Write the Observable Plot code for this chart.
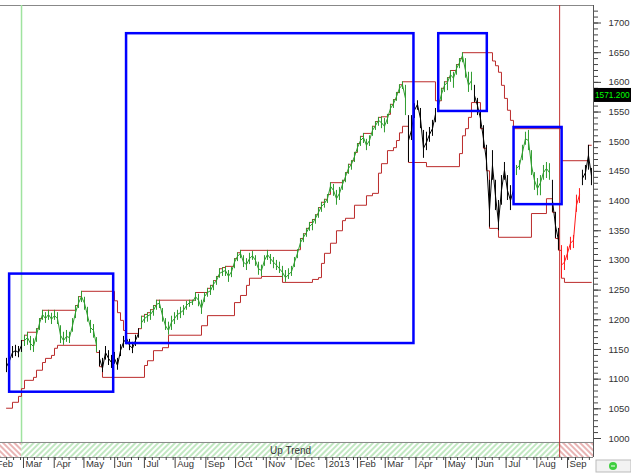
<!DOCTYPE html>
<html>
<head>
<meta charset="utf-8">
<script src="https://cdn.jsdelivr.net/npm/d3@7"></script>
<script src="https://cdn.jsdelivr.net/npm/@observablehq/plot@0.6"></script>
<style>
  html, body { margin: 0; padding: 0; background: #fff; }
  svg { display: block; }
</style>
</head>
<body>
<div id="chart"></div>
<script>
const firstSample = "2012-02-12T20:18Z";
const sampleEveryDays = 3.027;

const closes = [
  1121,1131,1145,1148,1145,1157,1165,1170,1160,1155,
  1174,1194,1209,1202,1209,1201,1207,1202,1174,1165,
  1172,1170,1190,1212,1228,1239,1228,1207,1187,1182,
  1157,1135,1118,1145,1135,1128,1135,1123,1148,1162,
  1169,1157,1152,1165,1177,1195,1202,1206,1209,1216,
  1226,1228,1207,1190,1182,1196,1202,1209,1212,1216,
  1224,1229,1230,1239,1233,1219,1239,1246,1249,1260,
  1266,1278,1281,1283,1273,1281,1297,1307,1312,1297,
  1293,1303,1308,1300,1286,1283,1300,1310,1303,1297,
  1292,1286,1280,1271,1276,1281,1297,1312,1330,1339,
  1347,1357,1362,1371,1381,1391,1396,1404,1425,1418,
  1404,1413,1428,1441,1455,1462,1475,1490,1502,1507,
  1494,1502,1519,1527,1536,1532,1526,1539,1556,1564,
  1576,1590,1596,1573,1502,1519,1553,1563,1539,1489,
  1499,1512,1522,1546,1561,1580,1595,1600,1613,1607,
  1623,1633,1645,1620,1595,1603,1578,1561,1539,1505,
  1468,1384,1460,1409,1364,1418,1452,1418,1401,1418,
  1455,1460,1482,1505,1502,1460,1435,1421,1431,1448,
  1455,1448,1401,1359,1334,1292,1297,1312,1329,1334,
  1393,1410,1438,1448,1477,1443
];
const highs = [
  1135,1145,1155,1157,1155,1165,1174,1179,1172,1168,
  1185,1202,1216,1212,1216,1211,1216,1212,1190,1179,
  1182,1179,1202,1224,1239,1248,1238,1221,1199,1192,
  1170,1148,1135,1155,1148,1140,1145,1135,1158,1172,
  1177,1167,1162,1174,1185,1206,1209,1212,1217,1224,
  1233,1233,1219,1202,1196,1206,1212,1216,1221,1224,
  1231,1233,1233,1246,1243,1233,1246,1253,1258,1266,
  1273,1286,1288,1290,1283,1288,1303,1313,1317,1308,
  1303,1312,1315,1308,1297,1292,1308,1317,1310,1305,
  1300,1297,1290,1283,1286,1290,1305,1318,1337,1345,
  1354,1364,1369,1377,1389,1398,1403,1411,1431,1428,
  1418,1423,1435,1448,1462,1468,1482,1497,1509,1514,
  1504,1510,1526,1534,1541,1542,1539,1546,1563,1571,
  1583,1596,1601,1595,1544,1544,1564,1569,1556,1519,
  1516,1524,1536,1556,1569,1590,1601,1608,1620,1617,
  1630,1640,1650,1640,1617,1617,1595,1573,1553,1527,
  1494,1435,1485,1435,1401,1443,1465,1443,1426,1435,
  1460,1468,1494,1516,1519,1485,1448,1438,1443,1460,
  1465,1463,1435,1381,1354,1325,1308,1323,1339,1342,
  1410,1421,1452,1460,1494,1455
];
const lows = [
  1111,1121,1135,1138,1136,1145,1155,1157,1148,1145,
  1162,1182,1199,1194,1199,1192,1199,1192,1160,1157,
  1162,1160,1179,1202,1219,1229,1216,1196,1177,1169,
  1145,1121,1111,1132,1123,1118,1125,1115,1138,1152,
  1158,1148,1143,1155,1169,1185,1194,1196,1199,1206,
  1216,1219,1196,1182,1174,1182,1192,1199,1202,1207,
  1216,1221,1224,1231,1222,1209,1229,1238,1241,1249,
  1258,1270,1273,1273,1263,1271,1286,1298,1303,1288,
  1283,1293,1300,1290,1275,1273,1290,1300,1293,1286,
  1283,1278,1270,1263,1268,1273,1288,1303,1322,1330,
  1339,1349,1350,1361,1371,1381,1388,1396,1415,1408,
  1393,1401,1418,1431,1445,1452,1465,1482,1492,1497,
  1485,1492,1509,1519,1526,1522,1515,1529,1548,1556,
  1568,1581,1588,1544,1465,1502,1539,1553,1522,1472,
  1485,1499,1509,1532,1549,1569,1583,1586,1600,1590,
  1612,1623,1633,1607,1583,1586,1566,1544,1522,1489,
  1452,1356,1435,1384,1350,1393,1435,1401,1384,1401,
  1443,1452,1468,1494,1485,1443,1418,1409,1409,1435,
  1438,1435,1381,1337,1317,1270,1283,1300,1317,1320,
  1381,1396,1426,1435,1452,1426
];

// trend state of the bars: [first bar index, state]
const regimeChanges = [
  [0,"neutral"],[6,"up"],[31,"neutral"],[45,"up"],[134,"neutral"],[144,"up"],
  [156,"neutral"],[170,"up"],[182,"neutral"],[185,"down"],[192,"neutral"]
];

// channel lines: [bar index where the level changes, level]
const upperSteps = [
  [5,1165],[6,1174],[7,1179],[10,1185],[11,1202],[12,1216],[23,1224],[24,1239],[25,1248],
  [36,1232],[37,1212],[38,1199],[39,1182],[40,1177],[44,1185],[45,1206],[46,1209],[47,1212],
  [48,1217],[49,1224],[50,1233],[63,1246],[67,1253],[68,1258],[69,1266],[70,1273],[71,1286],
  [72,1288],[73,1290],[76,1303],[77,1313],[78,1317],[97,1318],[98,1337],[99,1345],[100,1354],
  [101,1364],[102,1369],[103,1377],[104,1389],[105,1398],[106,1403],[107,1411],[108,1431],
  [112,1435],[113,1448],[114,1462],[115,1468],[116,1482],[117,1497],[118,1509],[119,1514],
  [122,1526],[123,1534],[124,1541],[125,1542],[127,1546],[128,1563],[129,1571],[130,1583],
  [131,1596],[132,1601],[143,1569],[145,1590],[146,1601],[147,1608],[148,1620],[150,1630],
  [151,1640],[152,1650],[162,1636],[163,1628],[164,1617],[165,1595],[166,1573],[167,1553],
  [168,1536],[169,1522],[185,1468],[194,1494],[195,1494]
];
const lowerSteps = [
  [0,1051],[2,1061],[4,1071],[5,1084],[6,1098],[9,1103],[10,1115],[12,1128],[13,1135],
  [15,1140],[16,1152],[17,1157],[30,1145],[31,1121],[32,1103],[46,1123],[47,1131],[49,1148],
  [52,1153],[54,1174],[65,1190],[67,1207],[76,1229],[78,1241],[80,1258],[81,1270],[85,1273],
  [92,1263],[102,1268],[104,1271],[105,1295],[106,1312],[108,1329],[110,1350],[112,1367],
  [113,1371],[116,1393],[120,1409],[122,1413],[124,1447],[125,1463],[127,1485],[129,1490],
  [130,1502],[131,1515],[132,1526],[134,1465],[140,1458],[151,1480],[152,1510],[153,1522],
  [154,1541],[155,1566],[158,1522],[159,1489],[160,1451],[161,1354],[164,1339],[175,1379],
  [180,1404],[182,1381],[183,1337],[184,1317],[185,1270],[186,1263],[195,1263]
];

// highlighted boxes
const boxStarts = ["2012-02-16","2012-06-13","2013-04-24","2013-07-09"];
const boxEnds   = ["2012-05-31","2013-03-30","2013-06-12","2013-08-26T12:00Z"];
const boxLows   = [1078, 1160, 1551, 1394];
const boxHighs  = [1277, 1682, 1682, 1524];

// trend signals and the trend band
const buySignal = "2012-02-28";
const sellSignal = "2013-08-24";
const trendNames = ["down", "up", "down"];
const trendLabel = "Up Trend";
const lastPrice = 1571.2;

// axes
const yTicks = [1000,1050,1100,1150,1200,1250,1300,1350,1400,1450,1500,1550,1600,1650,1700];
const monthTicks = ["2012-02-01","2012-03-01","2012-04-01","2012-05-01","2012-06-01","2012-07-01",
  "2012-08-01","2012-09-01","2012-10-01","2012-11-01","2012-12-01","2013-01-01","2013-02-01",
  "2013-03-01","2013-04-01","2013-05-01","2013-06-01","2013-07-01","2013-08-01","2013-09-01"];
const monthLabels = ["Feb","Mar","Apr","May","Jun","Jul","Aug","Sep","Oct","Nov","Dec",
  "2013","Feb","Mar","Apr","May","Jun","Jul","Aug","Sep"];

// ---- build ----
const xDomain = [new Date("2012-02-06T19:00Z"), new Date("2013-09-27T04:00Z")];
const yBottom = 968, yBandTop = 991.6, yPlotBottom = 993.3, yTop = 1729.5;
const t0 = new Date(firstSample).getTime();
const barDate = i => new Date(t0 + i * sampleEveryDays * 864e5);

const bars = closes.map((c, i) => {
  let seg = 0;
  for (let k = 0; k < regimeChanges.length; k++) if (regimeChanges[k][0] <= i) seg = k;
  return {date: barDate(i), close: c, high: highs[i], low: lows[i], regime: regimeChanges[seg][1], seg};
});
const upper = upperSteps.map(([i, v]) => ({date: barDate(i), v}));
const lower = lowerSteps.map(([i, v]) => ({date: barDate(i), v}));
const boxes = boxStarts.map((s, k) => ({start: new Date(s), end: new Date(boxEnds[k]), lo: boxLows[k], hi: boxHighs[k]}));
const bounds = [xDomain[0], new Date(buySignal), new Date(sellSignal), xDomain[1]];
const trend = trendNames.map((t, k) => ({trend: t, start: bounds[k], end: bounds[k + 1]}));
const upSeg = trend[1];
const months = monthTicks.map(d => new Date(d));
const weeks = d3.utcMonday.range(xDomain[0], xDomain[1]);

function hatchDefs() {
  const defs = d3.create("svg:defs");
  const mk = (id, color, angle) => {
    const p = defs.append("pattern").attr("id", id).attr("patternUnits", "userSpaceOnUse")
      .attr("width", 4).attr("height", 4).attr("patternTransform", `rotate(${angle})`);
    p.append("rect").attr("width", 4).attr("height", 4).attr("fill", "#fff");
    p.append("line").attr("x1", 1).attr("y1", 0).attr("x2", 1).attr("y2", 4)
      .attr("stroke", color).attr("stroke-width", 1);
  };
  mk("hatchUp", "#86d186", 45);
  mk("hatchDown", "#d46a6a", -45);
  return defs.node();
}

function priceTag(index, scales, values, dims) {
  const y = scales.y(lastPrice);
  const x0 = dims.width - dims.marginRight + 1;
  const g = d3.create("svg:g");
  g.append("rect").attr("x", x0).attr("y", y - 11).attr("width", dims.marginRight).attr("height", 14).attr("fill", "#000");
  g.append("text").attr("x", x0 + 1).attr("y", y - 4).attr("dy", "0.35em").attr("fill", "#00ff00")
    .attr("text-anchor", "start").attr("font-size", 8.3).text(lastPrice.toFixed(3));
  return g.node();
}

function statusBox(index, scales, values, dims) {
  const x0 = dims.width - dims.marginRight + 3;
  const y0 = dims.height - dims.marginBottom + 3;
  const g = d3.create("svg:g");
  g.append("rect").attr("x", x0).attr("y", y0).attr("width", dims.marginRight - 3).attr("height", 12)
    .attr("fill", "#f2f2f2").attr("stroke", "#bbb");
  g.append("circle").attr("cx", x0 + 17).attr("cy", y0 + 6).attr("r", 4).attr("fill", "#3fcf3f");
  g.append("line").attr("x1", x0 + 15).attr("x2", x0 + 19).attr("y1", y0 + 6).attr("y2", y0 + 6)
    .attr("stroke", "#fff").attr("stroke-width", 1);
  return g.node();
}

const chart = Plot.plot({
  width: 631,
  height: 473,
  marginLeft: 0,
  marginRight: 38,
  marginTop: 5,
  marginBottom: 16,
  style: {fontFamily: "'Liberation Sans', Arial, sans-serif", fontSize: "9px", background: "#fff", color: "#333"},
  x: {type: "utc", domain: xDomain, axis: null},
  y: {domain: [yBottom, yTop], axis: null},
  color: {domain: ["up", "neutral", "down"], range: ["#2f9c2f", "#000000", "#ff1a1a"]},
  marks: [
    hatchDefs,
    Plot.rect(trend.filter(d => d.trend === "up"), {x1: "start", x2: "end", y1: yBottom, y2: yBandTop, fill: "url(#hatchUp)"}),
    Plot.rect(trend.filter(d => d.trend === "down"), {x1: "start", x2: "end", y1: yBottom, y2: yBandTop, fill: "url(#hatchDown)"}),
    Plot.text([trendLabel], {x: () => new Date((upSeg.start.getTime() + upSeg.end.getTime()) / 2), y: () => (yBottom + yBandTop) / 2, text: d => d, fontSize: 10, fill: "#333"}),
    Plot.ruleY([yPlotBottom, yTop, yBottom], {stroke: "#888", strokeWidth: 1}),
    Plot.ruleX([buySignal], {x: d => new Date(d), y1: yPlotBottom, y2: yTop, stroke: "#9fe39f", strokeWidth: 1.5}),
    Plot.ruleX([sellSignal], {x: d => new Date(d), y1: yBottom, y2: yTop, stroke: "#c03030", strokeWidth: 1}),
    Plot.line(upper, {x: "date", y: "v", curve: "step-after", stroke: "#bb2b2b", strokeWidth: 1}),
    Plot.line(lower, {x: "date", y: "v", curve: "step-after", stroke: "#bb2b2b", strokeWidth: 1}),
    Plot.ruleX(bars, {x: "date", y1: "low", y2: "high", stroke: "regime", strokeWidth: 1}),
    Plot.line(bars, {x: "date", y: "close", z: "seg", stroke: "regime", strokeWidth: 1}),
    Plot.rect(boxes, {x1: "start", x2: "end", y1: "lo", y2: "hi", fill: "none", stroke: "#0000ff", strokeWidth: 2.5}),
    Plot.ruleX([xDomain[1]], {y1: yBottom, y2: yTop, stroke: "#555"}),
    Plot.axisY({anchor: "right", ticks: d3.range(1000, 1730, 10), tickSize: 4, tickFormat: () => "", label: null, stroke: "#444"}),
    Plot.axisY({anchor: "right", ticks: yTicks, tickSize: 7, tickPadding: 8, tickFormat: d => String(d), label: null, stroke: "#444", fill: "#333", fontSize: 9.5}),
    Plot.axisX({ticks: weeks, tickSize: 3, tickFormat: () => "", label: null, stroke: "#444"}),
    Plot.axisX({ticks: months, tickSize: 11, tickFormat: () => "", label: null, stroke: "#444"}),
    Plot.text(months, {x: d => d, text: (d, i) => monthLabels[i], frameAnchor: "bottom", dy: 9, dx: 2, textAnchor: "start", fill: "#333", fontSize: 9.5}),
    priceTag,
    statusBox
  ]
});
document.getElementById("chart").appendChild(chart);
</script>
</body>
</html>
